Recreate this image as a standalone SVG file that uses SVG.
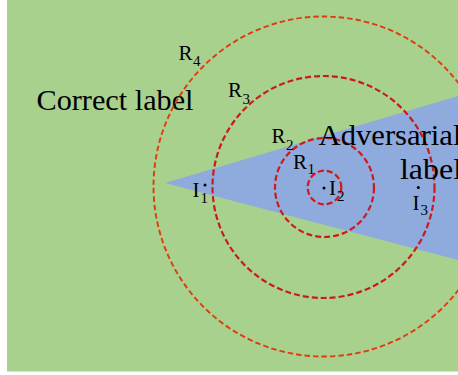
<svg xmlns="http://www.w3.org/2000/svg" width="458" height="375" viewBox="0 0 458 375">
<style>
.bg{fill:#a9d18e}
.reg{fill:#8faadc}
.ring{fill:none;stroke:#cc1a1a;stroke-width:2.2;stroke-dasharray:6 3}
.r4{stroke:#dd3b12;stroke-width:1.9;stroke-dasharray:5.5 3}
.big{font-family:"Liberation Serif",serif;font-size:30px;fill:#000}
.lab{font-family:"Liberation Serif",serif;font-size:21px;fill:#000}
.sub{font-size:15px}
.dot{fill:#000}
</style>
<rect x="0" y="0" width="458" height="375" fill="#fff"/>
<g id="correct-region">
<rect class="bg" x="7" y="0" width="451" height="371.5"/>
<text class="big" x="36.5" y="110" textLength="157" lengthAdjust="spacingAndGlyphs">Correct label</text>
</g>
<g id="adversarial-region">
<polygon class="reg" points="165,183 458,96 458,260"/>
</g>
<g id="connectors">
<circle class="ring r4" cx="323.5" cy="186.5" r="170"/>
<circle class="ring" cx="323.5" cy="187" r="111"/>
<circle class="ring" cx="324.5" cy="187.5" r="49.5"/>
<circle class="ring" cx="324.5" cy="187.5" r="16.8"/>
</g>
<g id="adversarial-label">
<text class="big" x="318.5" y="145" textLength="143" lengthAdjust="spacingAndGlyphs">Adversarial</text>
<text class="big" x="400" y="179" textLength="62" lengthAdjust="spacingAndGlyphs">label</text>
</g>
<g id="R4"><text class="lab" x="178.5" y="60">R<tspan class="sub" x="193" y="66">4</tspan></text></g>
<g id="R3"><text class="lab" x="228" y="97">R<tspan class="sub" x="242.5" y="103.5">3</tspan></text></g>
<g id="R2"><text class="lab" x="271.5" y="143">R<tspan class="sub" x="286" y="149.5">2</tspan></text></g>
<g id="R1"><text class="lab" x="293" y="169">R<tspan class="sub" x="307.5" y="174">1</tspan></text></g>
<g id="I1"><circle class="dot" cx="205" cy="185" r="1.5"/><text class="lab" x="192.5" y="197">I<tspan class="sub" x="200.5" y="203">1</tspan></text></g>
<g id="I2"><circle class="dot" cx="324" cy="188" r="1.5"/><text class="lab" x="329" y="195">I<tspan class="sub" x="337" y="201">2</tspan></text></g>
<g id="I3"><circle class="dot" cx="418.3" cy="187.5" r="1.5"/><text class="lab" x="412.5" y="210">I<tspan class="sub" x="420.5" y="215">3</tspan></text></g>
</svg>
